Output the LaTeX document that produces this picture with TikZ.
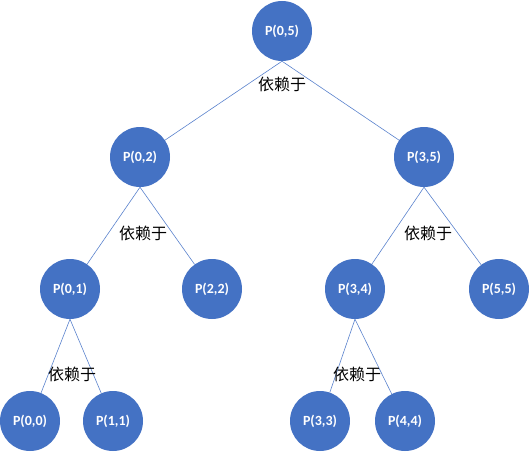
\documentclass[tikz,border=0pt]{standalone}
\usepackage{fontspec}
\setmainfont{Carlito}
\newfontfamily\cjk{Noto Sans CJK SC}
\definecolor{nodeblue}{RGB}{68,114,196}
\definecolor{lineblue}{RGB}{90,130,205}

\begin{document}
\begin{tikzpicture}
        [x=1pt,y=-1pt,every node/.style={circle,fill=nodeblue,minimum size=60pt,inner sep=0pt,text=white,font=\bfseries\fontsize{14}{16}\selectfont},
         dep/.style={fill=none,rectangle,minimum size=0pt,text=black,font=\cjk\fontsize{16}{18}\selectfont}]
        \useasboundingbox (0,0) rectangle (530,452);
        \node (05) at (282,31) {P(0,5)};
        \node (02) at (140,157) {P(0,2)};
        \node (35) at (424,157) {P(3,5)};
        \node (01) at ( 70,289) {P(0,1)};
        \node (22) at (212,289) {P(2,2)};
        \node (34) at (355,289) {P(3,4)};
        \node (55) at (499,289) {P(5,5)};
        \node (00) at ( 30,421) {P(0,0)};
        \node (11) at (113,421) {P(1,1)};
        \node (33) at (320,421) {P(3,3)};
        \node (44) at (405,421) {P(4,4)};

        \path [-,draw=lineblue,line width=0.6pt] (05.south) edge (02);
        \path [-,draw=lineblue,line width=0.6pt] (05.south) edge (35);
        \path [-,draw=lineblue,line width=0.6pt] (02.south) edge (01);
        \path [-,draw=lineblue,line width=0.6pt] (02.south) edge (22);
        \path [-,draw=lineblue,line width=0.6pt] (35.south) edge (34);
        \path [-,draw=lineblue,line width=0.6pt] (35.south) edge (55);
        \path [-,draw=lineblue,line width=0.6pt] (01.south) edge (00);
        \path [-,draw=lineblue,line width=0.6pt] (01.south) edge (11);
        \path [-,draw=lineblue,line width=0.6pt] (34.south) edge (33);
        \path [-,draw=lineblue,line width=0.6pt] (34.south) edge (44);

        \node [dep] (d05) at (282,84) {依赖于};
        \node [dep] (d02) at (143,233) {依赖于};
        \node [dep] (d35) at (428,233) {依赖于};
        \node [dep] (d01) at ( 72,374) {依赖于};
        \node [dep] (d34) at (357,374) {依赖于};
    \end{tikzpicture}
\end{document}
